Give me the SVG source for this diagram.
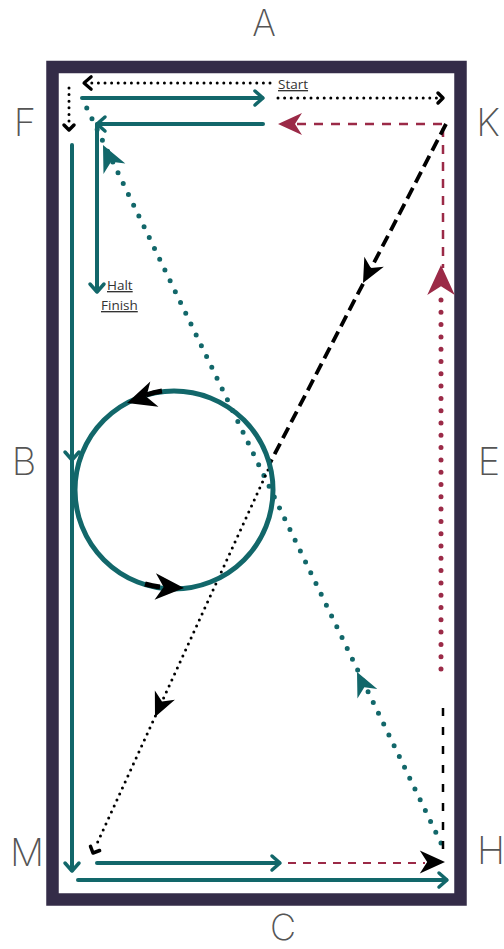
<svg xmlns="http://www.w3.org/2000/svg" xmlns:xlink="http://www.w3.org/1999/xlink" width="504" height="949" viewBox="0 0 504 949">
  <style>
    .letter { font-family: "Inter", "Open Sans", "Liberation Sans", sans-serif; font-weight: 200; font-size: 38px; fill: #555555; text-anchor: middle; }
    .lbl { font-family: "Open Sans", "Liberation Sans", sans-serif; font-size: 13.5px; fill: #333; text-decoration: underline; }
    .teal { stroke: #12676a; stroke-width: 4; fill: none; stroke-linecap: round; stroke-linejoin: round; }
    .tealdot { stroke: #12676a; stroke-width: 5; fill: none; stroke-linecap: round; stroke-dasharray: 0 12; }
    .reddash { stroke: #9b2a47; stroke-width: 2.5; fill: none; stroke-dasharray: 9 8; }
    .reddot { stroke: #9b2a47; stroke-width: 5; fill: none; stroke-linecap: round; stroke-dasharray: 0 12.3; }
    .blkdot { stroke: #000; stroke-width: 3; fill: none; stroke-linecap: round; stroke-dasharray: 0 6.6; }
    .blkdash { stroke: #000; stroke-width: 3.8; fill: none; stroke-dasharray: 12 6; }
    .blkdash2 { stroke: #000; stroke-width: 2.5; fill: none; stroke-dasharray: 8 11; }
    .chev-t { stroke: #12676a; stroke-width: 3.5; fill: none; stroke-linecap: round; stroke-linejoin: round; }
    .chev-k { stroke: #000; stroke-width: 3.5; fill: none; stroke-linecap: round; stroke-linejoin: round; }
  </style>
  <defs>
    <path id="dart" d="M0,0 L-24,-11 L-17,0 L-24,11 Z"/>
    <path id="chev" d="M-8,-7 L0,0 L-8,7"/>
    <path id="chevs" d="M-5,-5 L0,0 L-5,5"/>
  </defs>

  <rect width="504" height="949" fill="#ffffff"/>

  <g id="arena">
    <rect x="52.5" y="67" width="408" height="832.5" fill="#ffffff" stroke="#342c48" stroke-width="12.5"/>
  </g>

  <g id="letters">
    <text id="A" class="letter" x="264" y="36" style="font-size:36px">A</text>
    <text id="F" class="letter" x="25" y="136">F</text>
    <text id="K" class="letter" x="488" y="136">K</text>
    <text id="B" class="letter" x="24" y="475">B</text>
    <text id="E" class="letter" x="489" y="475">E</text>
    <text id="M" class="letter" x="27" y="866">M</text>
    <text id="H" class="letter" x="491" y="864">H</text>
    <text id="C" class="letter" x="283" y="940" style="font-size:36px">C</text>
  </g>

  <g id="labels">
    <text id="start" class="lbl" x="278" y="89">Start</text>
    <text id="halt" class="lbl" x="107" y="290">Halt</text>
    <text id="finish" class="lbl" x="101" y="310">Finish</text>
  </g>

  <g id="connectors">
    <!-- black dotted start lines -->
    <line class="blkdot" x1="270" y1="83" x2="88" y2="83"/>
    <use href="#chev" class="chev-k" transform="translate(84,83) rotate(180) scale(0.9)"/>
    <line class="blkdot" x1="69" y1="88" x2="69" y2="124"/>
    <use href="#chevs" class="chev-k" transform="translate(69,130) rotate(90)"/>
    <line class="blkdot" x1="278" y1="98" x2="438" y2="98"/>
    <use href="#chevs" class="chev-k" transform="translate(443,98)"/>

    <!-- teal solid lines -->
    <line class="teal" x1="82" y1="98" x2="262" y2="98"/>
    <use href="#chev" class="chev-t" transform="translate(263,98)"/>
    <line class="teal" x1="263" y1="124" x2="98" y2="124"/>
    <use href="#chev" class="chev-t" transform="translate(97,124) rotate(180)"/>
    <line class="teal" x1="97" y1="124" x2="97" y2="290"/>
    <use href="#chev" class="chev-t" transform="translate(97,292) rotate(90)"/>
    <line class="teal" x1="72" y1="145" x2="72" y2="870"/>
    <use href="#chev" class="chev-t" transform="translate(72,460) rotate(90)"/>
    <use href="#chev" class="chev-t" transform="translate(72,871) rotate(90)"/>
    <line class="teal" x1="97" y1="863" x2="279" y2="863"/>
    <use href="#chev" class="chev-t" transform="translate(280,863)"/>
    <line class="teal" x1="78" y1="880" x2="446" y2="880"/>
    <use href="#chev" class="chev-t" transform="translate(447,880)"/>

    <!-- teal dotted diagonal H to F -->
    <line class="tealdot" x1="441" y1="843" x2="82" y2="98"/>
    <use href="#dart" fill="#12676a" transform="translate(103,145) rotate(-115.6) scale(1.1)"/>
    <use href="#dart" fill="#12676a" transform="translate(357,672) rotate(-115.6)"/>

    <!-- red lines -->
    <line class="reddash" x1="442" y1="124" x2="292" y2="124"/>
    <use href="#dart" fill="#9b2a47" transform="translate(278,124) rotate(180)"/>
    <line class="reddash" x1="443" y1="128" x2="443" y2="268"/>
    <line class="reddot" x1="441" y1="300" x2="441" y2="680"/>
    <use href="#dart" fill="#9b2a47" transform="translate(441,265) rotate(-90) scale(1.25)"/>
    <line class="reddash" x1="288" y1="863" x2="425" y2="863" style="stroke-width:2.2;stroke-dasharray:8 7"/>

    <!-- black diagonal K to M -->
    <line class="blkdash" x1="446" y1="124" x2="270" y2="463"/>
    <use href="#dart" fill="#000" transform="translate(363,283) rotate(117.5)"/>
    <line class="blkdot" x1="268" y1="470" x2="95" y2="848"/>
    <use href="#dart" fill="#000" transform="translate(155,717) rotate(114.3)"/>
    <use href="#chevs" class="chev-k" transform="translate(93,853) rotate(114.3)"/>

    <!-- black dashed vertical at H -->
    <line class="blkdash2" x1="443" y1="708" x2="443" y2="852"/>
    <use href="#dart" fill="#000" transform="translate(445,862) scale(1.05)"/>

    <!-- circle -->
    <circle cx="174" cy="490" r="99" fill="none" stroke="#12676a" stroke-width="5"/>
    <path d="M146,395 A99,99 0 0 1 162,391" fill="none" stroke="#000" stroke-width="5"/>
    <use href="#dart" fill="#000" transform="translate(127,403) rotate(162) scale(1.2)"/>
    <path d="M145,584 A99,99 0 0 0 160,587" fill="none" stroke="#000" stroke-width="5"/>
    <use href="#dart" fill="#000" transform="translate(184,588) rotate(3) scale(1.2)"/>
  </g>
</svg>
